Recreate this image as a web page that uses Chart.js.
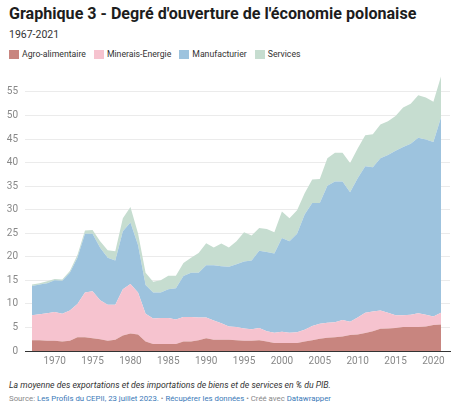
<!DOCTYPE html>
<html lang="fr">
<head>
<meta charset="utf-8">
<script src="https://cdn.jsdelivr.net/npm/chart.js@4.4.1/dist/chart.umd.min.js"></script>
<style>
  body { margin: 0; width: 460px; height: 411px; background: #fff; position: relative; overflow: hidden;
         font-family: Roboto, "Noto Sans", sans-serif; color: #1d1d1d; }
  .title { position: absolute; left: 9px; top: 3px; font-size: 16.1px; line-height: 22px; font-weight: 700; white-space: nowrap; }
  .sub { position: absolute; left: 9px; top: 28px; font-size: 10.5px; line-height: 14px; color: #333; }
  .legend { position: absolute; left: 9px; top: 48px; font-size: 8.7px; line-height: 12px; color: #333; display: flex; white-space: nowrap; }
  .legend span { display: inline-flex; align-items: center; margin-right: 8px; }
  .legend i { display: inline-block; width: 10px; height: 9px; margin-right: 3px; }
  #wrap { position: absolute; left: 0; top: 62px; width: 460px; height: 310px; }
  .note { position: absolute; left: 9px; top: 379px; font-size: 8.7px; line-height: 13px; font-style: italic; color: #333; white-space: nowrap; }
  .src { position: absolute; left: 9px; top: 393px; font-size: 7.8px; line-height: 12px; color: #888; white-space: nowrap; }
  .src a { color: #3a79b8; text-decoration: none; }
</style>
</head>
<body>
<div class="title">Graphique 3 - Degré d'ouverture de l'économie polonaise</div>
<div class="sub">1967-2021</div>
<div class="legend" id="legend"></div>
<div id="wrap"><canvas id="chart" width="460" height="310"></canvas></div>
<div class="note">La moyenne des exportations et des importations de biens et de services en % du PIB.</div>
<div class="src">Source: <a>Les Profils du CEPII, 23 juillet 2023.</a> • <a>Récupérer les données</a> • Créé avec <a>Datawrapper</a></div>
<script>
const years = [1967, 1968, 1969, 1970, 1971, 1972, 1973, 1974, 1975, 1976,
  1977, 1978, 1979, 1980, 1981, 1982, 1983, 1984, 1985, 1986,
  1987, 1988, 1989, 1990, 1991, 1992, 1993, 1994, 1995, 1996,
  1997, 1998, 1999, 2000, 2001, 2002, 2003, 2004, 2005, 2006,
  2007, 2008, 2009, 2010, 2011, 2012, 2013, 2014, 2015, 2016,
  2017, 2018, 2019, 2020, 2021];

const agro = [2.3, 2.3, 2.2, 2.2, 2.0, 2.2, 2.9, 2.9, 2.7, 2.5,
  2.2, 2.4, 3.3, 3.7, 3.5, 2.0, 1.5, 1.5, 1.5, 1.5,
  2.0, 2.0, 2.3, 2.7, 2.4, 2.4, 2.4, 2.3, 2.2, 2.2,
  2.3, 2.0, 1.7, 1.7, 1.7, 1.7, 2.0, 2.3, 2.6, 2.8,
  2.9, 3.1, 3.4, 3.5, 3.8, 4.2, 4.7, 4.8, 4.9, 5.1,
  5.1, 5.1, 5.2, 5.5, 5.6];

const minerais = [5.3, 5.5, 5.8, 6.1, 5.9, 6.4, 7.1, 9.5, 10.0, 8.3,
  7.6, 7.4, 9.8, 10.5, 8.9, 5.9, 5.4, 5.5, 5.5, 5.2,
  5.2, 5.2, 4.8, 4.4, 4.1, 3.5, 2.8, 2.8, 2.6, 2.4,
  2.6, 2.2, 2.2, 2.4, 2.2, 2.3, 2.5, 3.0, 3.2, 3.2,
  3.2, 3.5, 2.8, 3.6, 4.3, 4.2, 3.9, 3.3, 2.7, 2.5,
  2.6, 2.9, 2.5, 1.8, 2.5];

const manufacturier = [6.2, 6.3, 6.4, 6.7, 7.0, 8.0, 9.8, 12.5, 12.2, 11.1,
  10.0, 9.4, 12.3, 13.1, 10.1, 6.1, 5.5, 5.4, 6.1, 6.6,
  8.7, 9.4, 9.5, 11.1, 11.7, 12.1, 12.7, 13.3, 14.2, 14.6,
  16.4, 16.8, 16.8, 19.9, 19.4, 20.9, 24.5, 26.1, 25.6, 29.1,
  29.9, 29.4, 27.5, 29.6, 31.1, 30.6, 32.3, 33.5, 34.9, 35.7,
  36.3, 37.3, 37.2, 37.1, 41.5];

const services = [0.3, 0.3, 0.4, 0.3, 0.3, 0.4, 0.6, 0.7, 0.8, 1.4,
  1.6, 2.0, 2.8, 3.3, 2.5, 2.6, 2.3, 2.6, 2.9, 2.7,
  2.8, 3.2, 4.2, 4.7, 3.8, 4.8, 4.1, 4.9, 6.2, 5.3,
  4.8, 4.9, 4.5, 5.6, 4.9, 5.0, 4.5, 5.0, 5.1, 5.8,
  6.1, 6.1, 6.2, 6.3, 6.6, 7.0, 7.2, 7.2, 7.4, 8.4,
  8.5, 9.0, 8.9, 8.5, 8.7];

const seriesNames = ['Agro-alimentaire', 'Minerais-Energie', 'Manufacturier', 'Services'];
const xTicks = [1970, 1975, 1980, 1985, 1990, 1995, 2000, 2005, 2010, 2015, 2020];
const yTicks = [0, 5, 10, 15, 20, 25, 30, 35, 40, 45, 50, 55];

const colors = ['#c8857f', '#f6c3cf', '#9dc3de', '#c6ddd0'];
const series = [agro, minerais, manufacturier, services];

// legend as html, like datawrapper does
document.getElementById('legend').innerHTML = seriesNames
  .map((n, i) => `<span><i style="background:${colors[i]}"></i>${n}</span>`).join('');

const datasets = series.map((s, i) => ({
  label: seriesNames[i],
  data: years.map((yr, j) => ({ x: yr, y: s[j] })),
  backgroundColor: colors[i],
  borderWidth: 0,
  pointRadius: 0,
  tension: 0,
  fill: i === 0 ? 'origin' : '-1'
}));

new Chart(document.getElementById('chart'), {
  type: 'line',
  data: { datasets },
  options: {
    responsive: false,
    animation: false,
    layout: { padding: { top: 10, right: 10, bottom: 0, left: 0 } },
    plugins: { legend: { display: false }, tooltip: { enabled: false } },
    scales: {
      x: {
        type: 'linear',
        min: 1966.08,
        max: 2022.19,
        z: 1,
        grid: { display: false, drawTicks: false },
        border: { display: true, color: '#333', width: 1 },
        afterBuildTicks: s => { s.ticks = xTicks.map(v => ({ value: v })); },
        afterFit: s => { s.height = 21; },
        ticks: { padding: 4, color: '#888', font: { family: 'Roboto', size: 10 },
                 maxRotation: 0, autoSkip: false, callback: v => String(v) }
      },
      y: {
        stacked: true,
        min: 0,
        max: 58.6,
        z: 1,
        afterBuildTicks: s => { s.ticks = yTicks.map(v => ({ value: v })); },
        afterFit: s => { s.width = 25; },
        grid: { drawTicks: false, color: c => c.tick && c.tick.value === 0 ? 'rgba(0,0,0,0)' : 'rgba(0,0,0,0.08)' },
        border: { display: false },
        ticks: { padding: 7, color: '#888', font: { family: 'Roboto', size: 10 } }
      }
    }
  }
});
</script>
</body>
</html>
